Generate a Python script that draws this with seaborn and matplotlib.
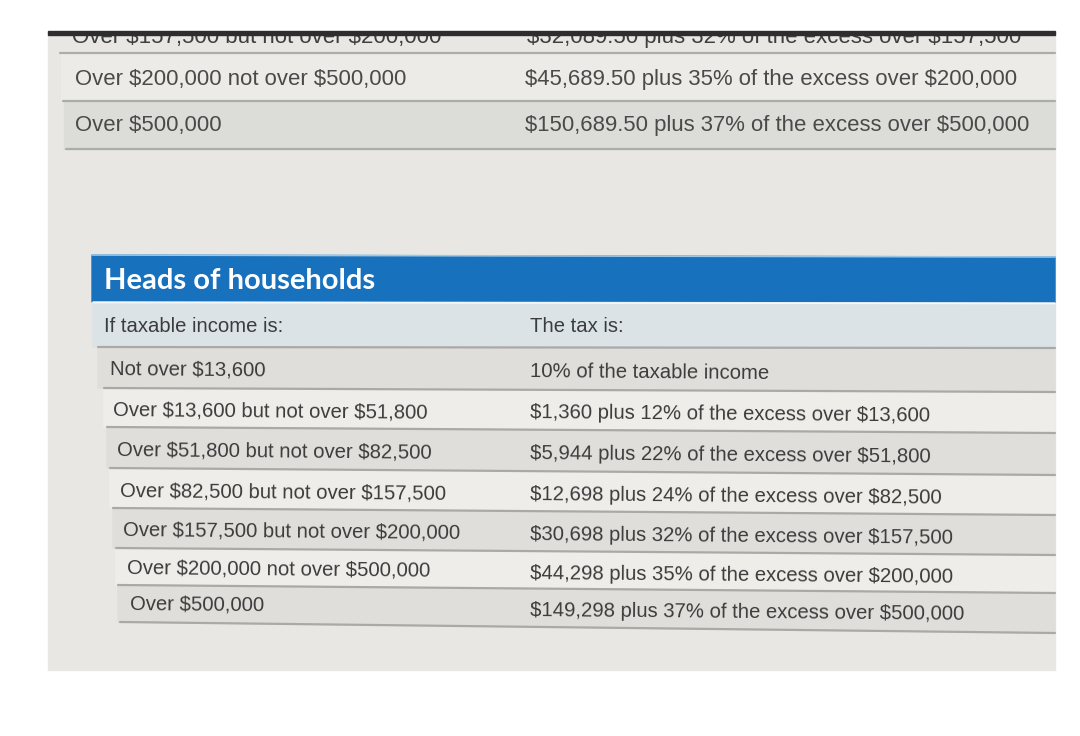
import matplotlib
matplotlib.use("Agg")
import matplotlib.pyplot as plt
import seaborn as sns
from matplotlib import font_manager as fm
from matplotlib.textpath import TextPath
from matplotlib.patches import Rectangle

# ---------------- data ----------------
top_cut_income = "Over $157,500 but not over $200,000"
top_cut_tax = "$32,089.50 plus 32% of the excess over $157,500"
top_income = ["Over $200,000 not over $500,000", "Over $500,000"]
top_tax = ["$45,689.50 plus 35% of the excess over $200,000",
           "$150,689.50 plus 37% of the excess over $500,000"]

hoh_title = "Heads of households"
hoh_head_income = "If taxable income is:"
hoh_head_tax = "The tax is:"
hoh_income = ["Not over $13,600",
              "Over $13,600 but not over $51,800",
              "Over $51,800 but not over $82,500",
              "Over $82,500 but not over $157,500",
              "Over $157,500 but not over $200,000",
              "Over $200,000 not over $500,000",
              "Over $500,000"]
hoh_tax = ["10% of the taxable income",
           "$1,360 plus 12% of the excess over $13,600",
           "$5,944 plus 22% of the excess over $51,800",
           "$12,698 plus 24% of the excess over $82,500",
           "$30,698 plus 32% of the excess over $157,500",
           "$44,298 plus 35% of the excess over $200,000",
           "$149,298 plus 37% of the excess over $500,000"]

# ---------------- style ----------------
sns.set_theme(style="white")
avail = {f.name for f in fm.fontManager.ttflist}
narrow = "Liberation Sans Narrow" if "Liberation Sans Narrow" in avail else "Liberation Sans"
regular = "Liberation Sans"
boldfam = "Lato" if "Lato" in avail else "DejaVu Sans"
plt.rcParams["font.family"] = [regular, "DejaVu Sans"]
plt.rcParams["text.parse_math"] = False

W, H, DPI = 1080, 736, 100
fig = plt.figure(figsize=(W / DPI, H / DPI), dpi=DPI)
ax = fig.add_axes([0, 0, 1, 1])
ax.set_xlim(0, W)
ax.set_ylim(H, 0)
ax.axis("off")
fig.patch.set_facecolor("white")


def fit_size(text, family, weight, target_px):
    prop = fm.FontProperties(family=family, weight=weight)
    w = TextPath((0, 0), text, size=100, prop=prop).get_extents().width
    return target_px / (w / 100 * DPI / 72)


top_fs = fit_size(top_income[0], narrow, "normal", 330)
bot_fs = fit_size(hoh_income[4], regular, "normal", 335)
title_fs = fit_size(hoh_title, boldfam, "bold", 268)
cut_fs = fit_size(top_cut_income, narrow, "normal", 368)

# photo background
ax.add_patch(Rectangle((48, 31), 1055 - 48, 670 - 31, color="#e8e7e3", zorder=0))

# ---------------- top (cut) table ----------------
for txt, x in [(top_cut_income, 72), (top_cut_tax, 527)]:
    ax.text(x, 43, txt, fontsize=cut_fs, family=narrow, color="#3e3e3e",
            va="baseline", ha="left", zorder=3)
# cover what lies above the photo's upper edge
ax.add_patch(Rectangle((0, 0), W, 31, color="white", zorder=5))
ax.add_patch(Rectangle((48, 30.5), 1007, 4, color="#2e2e2e", zorder=6))

top_bounds = [53, 101, 149]
top_left = [60, 63, 66]
top_colors = ["#ecebe8", "#dcdcd9"]
for i in range(len(top_income)):
    ax.add_patch(Rectangle((top_left[i + 1] - 2, top_bounds[i]), 1055 - top_left[i + 1] + 2,
                           top_bounds[i + 1] - top_bounds[i], color=top_colors[i % 2], zorder=1))
for k, yb in enumerate(top_bounds):
    ax.plot([top_left[k], 1055], [yb, yb], color="#acacaa", lw=1.6, zorder=2)
top_text_y = [79, 126]
for i, (inc, tax) in enumerate(zip(top_income, top_tax)):
    ax.text(75, top_text_y[i], inc, fontsize=top_fs, family=narrow, color="#4a4a4a",
            va="center", ha="left", zorder=3)
    ax.text(525, top_text_y[i], tax, fontsize=top_fs, family=narrow, color="#4a4a4a",
            va="center", ha="left", zorder=3)

# ---------------- heads of households table ----------------
XR = 1055
# blue title band
ax.fill([92, XR, XR, 92], [255, 257, 303, 302], color="#1871bd", zorder=1)
ax.plot([92, XR], [255, 257], color="#9cc7e6", lw=1.2, zorder=2)
ax.text(104, 281, hoh_title, fontsize=title_fs, family=boldfam, weight="bold",
        color="white", va="center", ha="left", zorder=3)
# light blue header row
ax.fill([93, XR, XR, 93], [302, 303, 348, 347], color="#dbe3e6", zorder=1)
ax.plot([93, XR], [302.5, 303.5], color="#f4f8fa", lw=1.2, zorder=2)
ax.text(104, 326, hoh_head_income, fontsize=bot_fs, color="#3c3c3c",
        va="center", ha="left", zorder=3)
ax.text(530, 327, hoh_head_tax, fontsize=bot_fs, color="#3c3c3c",
        va="center", ha="left", zorder=3)

bL = [347, 388, 427, 468, 508, 548, 585, 622]
bR = [348, 392, 433, 475, 515, 555, 593, 633]
xL = [98, 104, 107, 110, 113, 116, 118, 120]
row_colors = ["#dfdedb", "#eeedea"]
for i in range(len(hoh_income)):
    xl = xL[i]
    ax.fill([xl, XR, XR, xl], [bL[i], bR[i], bR[i + 1], bL[i + 1]],
            color=row_colors[i % 2], zorder=1)
for k in range(len(bL)):
    ax.plot([xL[k], XR], [bL[k], bR[k]], color="#a9a9a7", lw=1.6, zorder=2)

txL = [110, 113, 117, 120, 123, 127, 130]
tyL = [369, 410, 450, 491, 530, 568, 604]
tyR = [372, 413, 454, 495, 535, 574, 611]
for i, (inc, tax) in enumerate(zip(hoh_income, hoh_tax)):
    ax.text(txL[i], tyL[i], inc, fontsize=bot_fs, color="#3c3c3c",
            va="center", ha="left", rotation=-0.5, rotation_mode="anchor", zorder=3)
    ax.text(530, tyR[i], tax, fontsize=bot_fs, color="#3c3c3c",
            va="center", ha="left", rotation=-0.5, rotation_mode="anchor", zorder=3)

fig.savefig("out.png", dpi=DPI, facecolor="white")
